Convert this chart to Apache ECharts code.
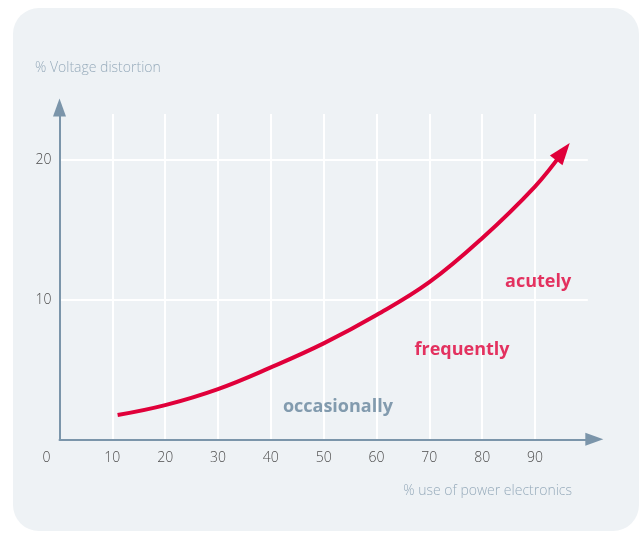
<!DOCTYPE html>
<html>
<head>
<meta charset="utf-8">
<script src="https://cdn.jsdelivr.net/npm/echarts@6/dist/echarts.min.js"></script>
<style>html,body{margin:0;padding:0;background:#fff}#c{width:639px;height:533px}</style>
</head>
<body>
<div id="c"></div>
<script>
// ---- data ----
var curveX = [11, 20, 30, 40, 50, 60, 70, 80, 90, 95.3];
var curveY = [1.74, 2.45, 3.6, 5.15, 6.87, 8.9, 11.25, 14.4, 18.1, 20.6];
var xTicks = [0, 10, 20, 30, 40, 50, 60, 70, 80, 90];
var yTicks = [10, 20];
var zoneNames = ['occasionally', 'frequently', 'acutely'];
var zoneX = [52.7, 76.2, 90.6];
var zoneY = [2.3, 6.4, 11.26];
var yTitle = '% Voltage distortion';
var xTitle = '% use of power electronics';

var RED = '#e0003a';
var AXIS = '#7b95aa';
var PANEL = '#eef2f5';

var curveData = curveX.map(function (x, i) {
  var item = { value: [x, curveY[i]] };
  if (i === curveX.length - 1) {
    item.symbol = 'triangle';
    item.symbolSize = [16, 22];
    item.symbolRotate = -38;
    item.itemStyle = { color: RED };
  }
  return item;
});

var zoneData = zoneNames.map(function (n, i) {
  return {
    name: n, value: [zoneX[i], zoneY[i]],
    label: { color: i === 0 ? '#66849c' : RED }
  };
});

var chart = echarts.init(document.getElementById('c'), null, { renderer: 'canvas' });
chart.setOption({
  backgroundColor: '#ffffff',
  animation: false,
  graphic: [
    { type: 'rect', z: -10, shape: { x: 13, y: 8, width: 626, height: 523, r: 26 }, style: { fill: PANEL } },
    { type: 'text', z: 5, x: 35, y: 68, style: { text: yTitle, fill: '#97abbb', font: '300 14px "Open Sans"', align: 'left', verticalAlign: 'middle', textAlign: 'left', textVerticalAlign: 'middle' } },
    { type: 'text', z: 5, x: 572, y: 491, style: { text: xTitle, fill: '#97abbb', font: '300 14px "Open Sans"', align: 'right', verticalAlign: 'middle', textAlign: 'right', textVerticalAlign: 'middle' } }
  ],
  grid: { left: 59.5, top: 114, width: 528.3, height: 325.3, containLabel: false },
  xAxis: {
    type: 'value', min: 0, max: 100, interval: 10,
    axisLine: { show: true, lineStyle: { color: AXIS, width: 2 }, symbol: ['none', 'triangle'], symbolSize: [13, 18], symbolOffset: [0, 6.5] },
    axisTick: { show: false },
    splitLine: { show: true, showMinLine: false, showMaxLine: false, lineStyle: { color: '#ffffff', width: 2 } },
    axisLabel: {
      show: true, margin: 12, showMaxLabel: false,
      color: '#4d4d4d', fontSize: 14, fontFamily: 'Open Sans', fontWeight: 300,
      formatter: function (v) {
        if (xTicks.indexOf(v) < 0) return '';
        return v === 0 ? '{z|0}' : String(v);
      },
      rich: { z: { padding: [0, 26, 0, 0], color: '#4d4d4d', fontSize: 14, fontFamily: 'Open Sans', fontWeight: 300 } }
    }
  },
  yAxis: {
    type: 'value', min: 0, max: 23.3, interval: 10,
    axisLine: { show: true, lineStyle: { color: AXIS, width: 2 }, symbol: ['none', 'triangle'], symbolSize: [13, 18], symbolOffset: [0, 6.5] },
    axisTick: { show: false },
    splitLine: { show: true, showMinLine: false, showMaxLine: false, lineStyle: { color: '#ffffff', width: 2 } },
    axisLabel: {
      show: true, margin: 8, showMaxLabel: false,
      color: '#4d4d4d', fontSize: 14, fontFamily: 'Open Sans', fontWeight: 300,
      formatter: function (v) { return yTicks.indexOf(v) >= 0 ? String(v) : ''; }
    }
  },
  series: [
    {
      type: 'line', data: curveData, smooth: 0.4, symbol: 'none', showSymbol: true, showAllSymbol: true,
      lineStyle: { color: RED, width: 4, cap: 'butt' }, itemStyle: { color: RED }, z: 5
    },
    {
      type: 'scatter', data: zoneData, symbolSize: 0, z: 6,
      label: { show: true, position: 'inside', formatter: '{b}', fontFamily: 'Open Sans', fontWeight: 'bold', fontSize: 18 }
    }
  ]
});
</script>
</body>
</html>
